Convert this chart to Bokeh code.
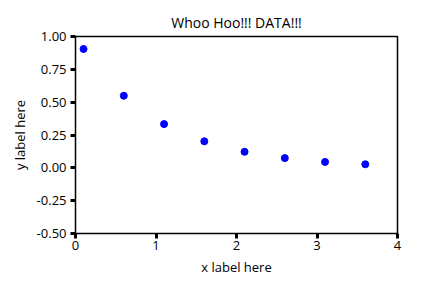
from bokeh.plotting import figure
from bokeh.models import Range1d, FixedTicker, NumeralTickFormatter
from bokeh.embed import file_html
from bokeh.resources import INLINE

x_vals = [0.1, 0.6, 1.1, 1.6, 2.1, 2.6, 3.1, 3.6]
y_vals = [0.905, 0.549, 0.333, 0.202, 0.122, 0.074, 0.045, 0.027]
x_ticks = [0, 1, 2, 3, 4]
y_ticks = [-0.5, -0.25, 0.0, 0.25, 0.5, 0.75, 1.0]

FONT = "Open Sans"

p = figure(width=432, height=288, output_backend="svg", toolbar_location=None,
           x_range=Range1d(0, 4), y_range=Range1d(-0.5, 1.0),
           title="Whoo Hoo!!! DATA!!!",
           min_border_left=75, min_border_right=35, min_border_top=36, min_border_bottom=55)

p.scatter(x_vals, y_vals, size=7, color="#0000ff")

p.title.align = "center"
p.title.text_font = FONT
p.title.text_font_size = "14px"
p.title.text_font_style = "normal"
p.title.text_color = "black"
p.title.offset = 0

p.xgrid.visible = False
p.ygrid.visible = False
p.outline_line_color = "black"
p.outline_line_width = 1.5
p.outline_line_alpha = 1.0
p.background_fill_color = "white"
p.border_fill_color = "white"

for ax in (p.xaxis[0], p.yaxis[0]):
    ax.axis_line_color = None
    ax.major_tick_line_width = 3
    ax.major_tick_line_color = "black"
    ax.major_tick_out = 5
    ax.major_tick_in = 0
    ax.minor_tick_line_color = None
    ax.major_label_text_font = FONT
    ax.major_label_text_font_size = "13px"
    ax.major_label_text_color = "black"
    ax.axis_label_text_font = FONT
    ax.axis_label_text_font_size = "13px"
    ax.axis_label_text_font_style = "normal"
    ax.axis_label_text_color = "black"

p.xaxis.ticker = FixedTicker(ticks=x_ticks)
p.yaxis.ticker = FixedTicker(ticks=y_ticks)
p.yaxis.formatter = NumeralTickFormatter(format="0.00")
p.xaxis.axis_label = "x label here"
p.yaxis.axis_label = "y label here"
p.xaxis.major_label_standoff = 2
p.yaxis.major_label_standoff = 4

open("out.html", "w").write(file_html(p, INLINE))
